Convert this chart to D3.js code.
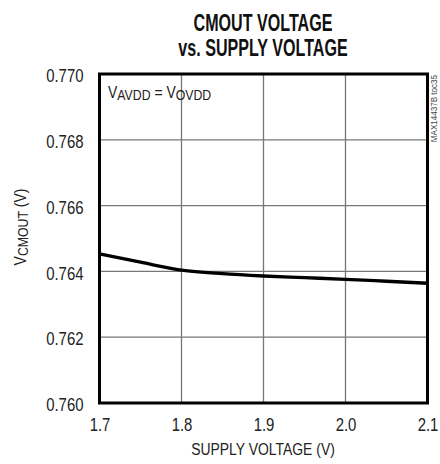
<!DOCTYPE html>
<html>
<head>
<meta charset="utf-8">
<script src="https://cdn.jsdelivr.net/npm/d3@7"></script>
<style>
  body { margin: 0; background: #fff; }
  svg { display: block; }
  text { font-family: "Liberation Sans", Arial, sans-serif; fill: #222; }
</style>
</head>
<body>
<svg id="chart" width="440" height="464"></svg>
<script>
// Supply voltage sweep (V) and measured common-mode output voltage (V)
const supplyVoltage = [1.70, 1.75, 1.80, 1.85, 1.90, 1.95, 2.00, 2.05, 2.10];
const cmoutVoltage  = [0.76453, 0.76428, 0.76404, 0.76393, 0.76386, 0.76381, 0.76376, 0.76370, 0.76364];
const xTicks = [1.7, 1.8, 1.9, 2.0, 2.1];
const yTicks = [0.760, 0.762, 0.764, 0.766, 0.768, 0.770];

const svg = d3.select("#chart");
const m = { left: 99.5, right: 427.5, top: 74, bottom: 403 };

const x = d3.scaleLinear().domain([1.7, 2.1]).range([m.left, m.right]);
const y = d3.scaleLinear().domain([0.760, 0.770]).range([m.bottom, m.top]);

// Horizontally condensed text, placed at (px, py) in page space
function label(parent, px, py, sx, opts = {}) {
  const g = parent.append("g")
    .attr("transform", `translate(${px},${py})${opts.rotate ? ` rotate(${opts.rotate})` : ""} scale(${sx},1)`);
  return g.append("text")
    .attr("text-anchor", opts.anchor || "start")
    .style("font-size", (opts.size || 17) + "px")
    .style("font-weight", opts.weight || "normal");
}

// Title
label(svg, 263, 31, 0.70, { anchor: "middle", size: 23, weight: "bold" })
  .style("fill", "#111").text("CMOUT VOLTAGE");
label(svg, 263, 56, 0.70, { anchor: "middle", size: 23, weight: "bold" })
  .style("fill", "#111").text("vs. SUPPLY VOLTAGE");

// Grid
const grid = svg.append("g");
grid.selectAll("line.v").data(xTicks.slice(1, -1)).join("line")
  .attr("x1", d => x(d)).attr("x2", d => x(d))
  .attr("y1", m.top).attr("y2", m.bottom)
  .attr("stroke", "#777").attr("stroke-width", 1.3);
grid.selectAll("line.h").data(yTicks.slice(1, -1)).join("line")
  .attr("y1", d => y(d)).attr("y2", d => y(d))
  .attr("x1", m.left).attr("x2", m.right)
  .attr("stroke", "#777").attr("stroke-width", 1.3);

// Axes (tick labels only; the frame is drawn separately)
const tickSx = 0.83;
const xAxis = svg.append("g").attr("transform", `translate(0,${m.bottom})`)
  .call(d3.axisBottom(x).tickValues(xTicks).tickFormat(d3.format(".1f")).tickSize(0).tickPadding(15));
const yAxis = svg.append("g").attr("transform", `translate(${m.left},0)`)
  .call(d3.axisLeft(y).tickValues(yTicks).tickFormat(d3.format(".3f")).tickSize(0).tickPadding(16));
[xAxis, yAxis].forEach(a => {
  a.select(".domain").remove();
  a.selectAll("text")
    .style("font-size", "18px").style("font-family", '"Liberation Sans", Arial, sans-serif')
    .attr("fill", "#222")
    .attr("transform", `scale(${tickSx},1)`);
});
yAxis.selectAll("text").attr("x", -16 / tickSx).attr("dy", "0.43em");

// Data curve
svg.append("path")
  .datum(supplyVoltage.map((v, i) => [v, cmoutVoltage[i]]))
  .attr("fill", "none").attr("stroke", "#000").attr("stroke-width", 3.3)
  .attr("d", d3.line().x(d => x(d[0])).y(d => y(d[1])).curve(d3.curveMonotoneX));

// Frame
svg.append("rect")
  .attr("x", m.left).attr("y", m.top)
  .attr("width", m.right - m.left).attr("height", m.bottom - m.top)
  .attr("fill", "none").attr("stroke", "#000").attr("stroke-width", 3);

// Condition label
const cond = label(svg, 108, 98, 0.82, { size: 17 });
cond.append("tspan").text("V");
cond.append("tspan").attr("dy", 2).style("font-size", "15px").text("AVDD");
cond.append("tspan").attr("dy", -2).text(" = V");
cond.append("tspan").attr("dy", 2).style("font-size", "15px").text("OVDD");

// Axis titles
label(svg, 263, 455, 0.82, { anchor: "middle", size: 17 }).text("SUPPLY VOLTAGE (V)");
const yt = label(svg, 26, 227, 0.82, { anchor: "middle", size: 17, rotate: -90 });
yt.append("tspan").text("V");
yt.append("tspan").attr("dy", 2).style("font-size", "15px").text("CMOUT");
yt.append("tspan").attr("dy", -2).text(" (V)");

// Part-number tag
label(svg, 436.5, m.top + 1, 0.85, { anchor: "end", size: 9.5, rotate: -90 })
  .style("fill", "#444").text("MAX14437B toc35");
</script>
</body>
</html>
